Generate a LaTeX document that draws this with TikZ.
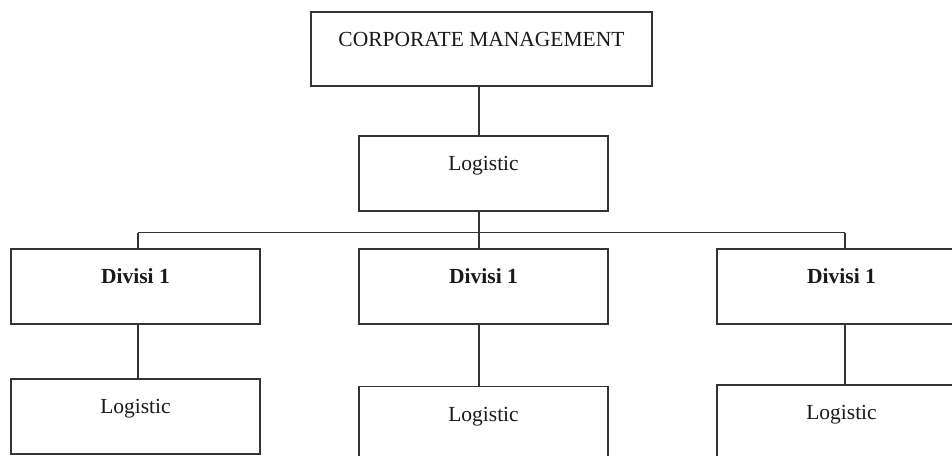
\documentclass[tikz,border=0pt]{standalone}
\usepackage{fontspec}
\setmainfont{Liberation Serif}
\begin{document}
\begin{tikzpicture}[x=1pt,y=-1pt,
  orgbox/.style={draw=black!80, line width=1.2pt, rectangle, inner xsep=0pt, inner ysep=0pt,
    minimum width=249pt, text height=34.5pt, text depth=40.5pt,
    font=\fontsize{21.5}{25}\selectfont, text=black!90},
  wide/.style={minimum width=341pt, text depth=39.5pt},
  link/.style={draw=black!80, line width=1.2pt}]
  \useasboundingbox (0,0) rectangle (952,455);
  \clip (0,0) rectangle (952,455);

  % top of the chart
  \node[orgbox, wide] (cm) at (481.5,49) {CORPORATE MANAGEMENT};
  \node[orgbox] (lg) at (483.5,173.5) {Logistic};

  % divisions
  \node[orgbox] (d1) at (135.5,286.5) {\textbf{Divisi 1}};
  \node[orgbox] (d2) at (483.5,286.5) {\textbf{Divisi 1}};
  \node[orgbox] (d3) at (841.5,286.5) {\textbf{Divisi 1}};

  % logistic units under each division
  \node[orgbox] (l1) at (135.5,416.5) {Logistic};
  \node[orgbox] (l2) at (483.5,424) {Logistic};
  \node[orgbox] (l3) at (841.5,422.5) {Logistic};

  % connector positions
  \coordinate (sp) at (479,232.5);
  \coordinate (bl) at (138,232.5);
  \coordinate (br) at (845,232.5);

  \draw[link] (cm.south -| sp) -- (lg.north -| sp);
  \draw[link] (lg.south -| sp) -- (d2.north -| sp);
  \draw[link] (bl) -- (br);
  \draw[link] (bl) -- (d1.north -| bl);
  \draw[link] (br) -- (d3.north -| br);
  \draw[link] (d1.south -| bl) -- (l1.north -| bl);
  \draw[link] (d2.south -| sp) -- (l2.north -| sp);
  \draw[link] (d3.south -| br) -- (l3.north -| br);
\end{tikzpicture}
\end{document}
